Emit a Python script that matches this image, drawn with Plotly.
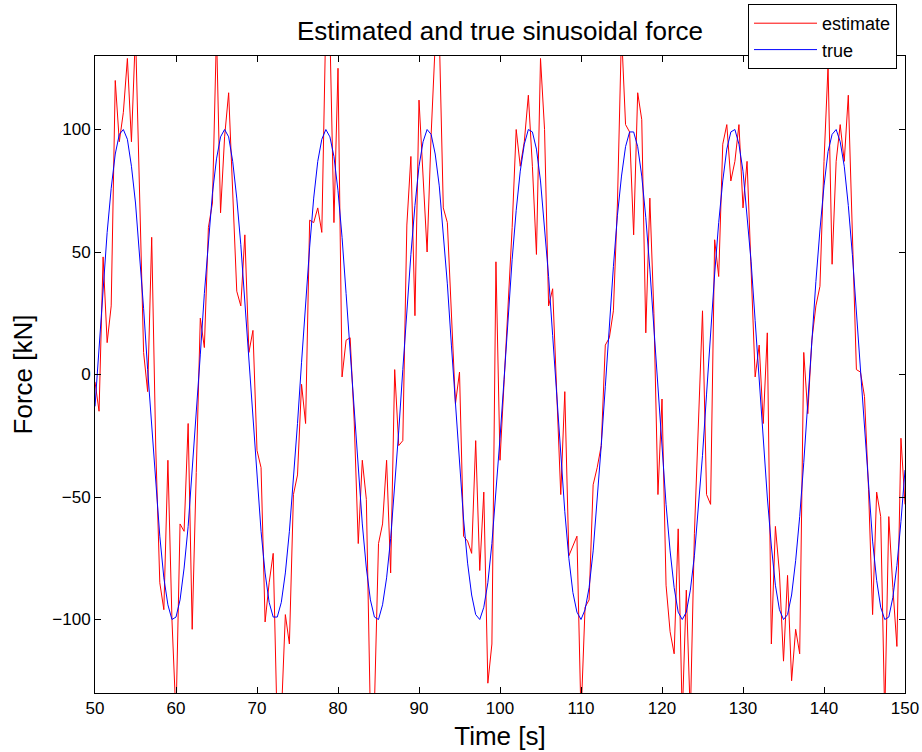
import numpy as np
import plotly.graph_objects as go

# Sample times [s], 0.5 s step
time = np.arange(50.0, 150.0 + 0.25, 0.5)

# True sinusoidal force [kN]
force_true = [
    -13, 12, 36, 58, 76, 90, 98, 100, 96, 85, 70, 50, 27, 2, -22, -46, -66, -83, -94, -100,
    -99, -92, -79, -62, -40, -17, 8, 33, 55, 74, 88, 97, 100, 97, 87, 72, 53, 30, 6, -19,
    -43, -64, -81, -93, -99, -99, -93, -81, -64, -43, -20, 5, 30, 52, 72, 87, 96, 100, 97, 89,
    75, 56, 33, 9, -16, -40, -61, -79, -92, -99, -100, -94, -83, -67, -46, -23, 2, 26, 49, 69,
    85, 95, 100, 98, 90, 77, 58, 37, 12, -13, -37, -59, -77, -90, -98, -100, -95, -85, -69, -49,
    -26, -2, 23, 47, 67, 83, 94, 100, 99, 92, 79, 61, 40, 16, -9, -34, -56, -75, -89, -97,
    -100, -96, -87, -72, -52, -29, -5, 20, 44, 65, 81, 93, 99, 99, 93, 81, 64, 43, 19, -6,
    -30, -53, -72, -87, -97, -100, -97, -88, -74, -55, -33, -8, 17, 41, 62, 79, 92, 99, 100, 94,
    83, 66, 46, 22, -3, -27, -50, -70, -86, -96, -100, -98, -90, -76, -58, -36, -11, 13, 38, 59,
    77, 91, 98, 100, 95, 85, 69, 49, 25, 1, -24, -47, -68, -84, -95, -100, -99, -91, -78, -60,
    -39,
]

# Estimated force [kN]
force_est = [
    -3, -15, 48, 13, 28, 120, 95, 107, 129, 95, 140, 70, 9, -7, 56, -30, -85, -96, -35, -100,
    -140, -61, -64, -20, -104, -40, 23, 11, 60, 70, 140, 66, 97, 115, 75, 34, 28, 57, 9, 18,
    -31, -38, -101, -85, -73, -145, -140, -98, -110, -49, -41, -4, -20, 63, 62, 68, 58, 145, 140, 62,
    125, -1, 14, 15, -19, -69, -35, -51, -140, -135, -69, -61, -35, -81, 2, -29, -27, 61, 89, 24,
    112, 80, 50, 98, 135, 140, 68, 62, 28, -12, 1, -66, -68, -73, -27, -80, -48, -126, -110, 46,
    -35, -5, 25, 60, 100, 85, 95, 114, 85, 49, 129, 100, 28, 35, -7, -49, -7, -74, -70, -66,
    -140, -95, -92, -45, -38, -29, 12, 15, 26, 70, 140, 102, 99, 57, 115, 104, 17, 72, 25, -49,
    -10, -86, -105, -114, -63, -140, -88, -140, -65, -20, 26, -49, -53, 55, 40, 94, 102, 79, 87, 102,
    68, 87, 40, -1, 12, -20, 17, -110, -62, -81, -117, -82, -125, -104, -114, 9, -16, 14, 28, 36,
    87, 126, 45, 87, 102, 87, 114, 60, 2, 1, -9, -47, -98, -48, -58, -140, -58, -87, -111, -26,
    -53,
]

x_ticks = [50, 60, 70, 80, 90, 100, 110, 120, 130, 140, 150]
y_ticks = [-100, -50, 0, 50, 100]

FONT = "Liberation Sans, Arial, Helvetica, sans-serif"

fig = go.Figure()
fig.add_trace(go.Scatter(x=time, y=force_est, mode="lines", name="estimate",
                         line=dict(color="#ff0000", width=1)))
fig.add_trace(go.Scatter(x=time, y=force_true, mode="lines", name="true",
                         line=dict(color="#0000ff", width=1)))

axis_common = dict(
    showline=True, linecolor="black", linewidth=1, mirror="ticks",
    ticks="inside", ticklen=6, tickwidth=1, tickcolor="black",
    showgrid=False, zeroline=False,
    tickfont=dict(family=FONT, size=17, color="black"),
)

fig.update_layout(
    width=922, height=752,
    margin=dict(l=95, r=17, t=56, b=59, autoexpand=False),
    paper_bgcolor="white", plot_bgcolor="white",
    font=dict(family=FONT, color="black"),
    title=dict(text="Estimated and true sinusoidal force", x=0.5, xref="paper",
               xanchor="center", y=1 - 31 / 752, yref="container", yanchor="middle",
               font=dict(family=FONT, size=26, color="black")),
    xaxis=dict(range=[50, 150], tickvals=x_ticks,
               title=dict(text="Time [s]", font=dict(family=FONT, size=26), standoff=9),
               **axis_common),
    yaxis=dict(range=[-130, 130], tickvals=y_ticks,
               title=dict(text="Force [kN]", font=dict(family=FONT, size=26), standoff=12),
               **axis_common),
    legend=dict(x=(748 - 95) / 810, y=(693 - 4) / 637, xanchor="left", yanchor="top",
                bgcolor="white", bordercolor="black", borderwidth=1,
                font=dict(family=FONT, size=18, color="black"),
                itemwidth=63, tracegroupgap=0),
    showlegend=True,
)

fig.write_html("out.html")
